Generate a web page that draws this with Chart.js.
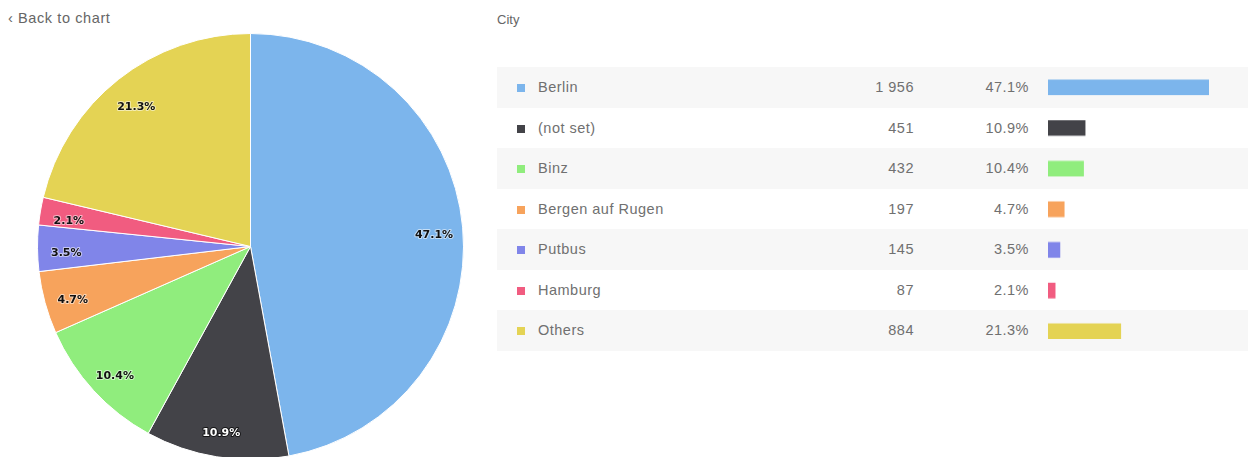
<!DOCTYPE html>
<html>
<head>
<meta charset="utf-8">
<script src="https://cdn.jsdelivr.net/npm/chart.js@4/dist/chart.umd.min.js"></script>
<style>
  html, body { margin: 0; padding: 0; background: #fff; width: 1250px; height: 457px; overflow: hidden;
    font-family: "Liberation Sans", Arial, sans-serif; }
  #back { position: absolute; left: 8px; top: 10px; font-size: 14.5px; letter-spacing: 0.6px; color: #666; }
  #title { position: absolute; left: 497px; top: 12px; font-size: 13px; color: #666; }
  #pieBox { position: absolute; left: 37px; top: 33px; width: 427px; height: 427px; }
  #table { position: absolute; left: 497px; top: 67px; width: 751px; }
  .row { height: 40.5px; position: relative; font-size: 14.5px; letter-spacing: 0.5px; color: #707070; }
  .row.alt { background: #f7f7f7; }
  .sw { position: absolute; left: 20px; top: 17px; width: 8px; height: 8px; }
  .lab { position: absolute; left: 41px; top: 0; line-height: 40.5px; white-space: nowrap; }
  .num { position: absolute; left: 0; width: 417px; text-align: right; line-height: 40.5px; }
  .pct { position: absolute; left: 0; width: 532px; text-align: right; line-height: 40.5px; }
  #barBox { position: absolute; left: 551px; top: 0; width: 161px; height: 283.5px; }
</style>
</head>
<body>
<div id="back">‹ Back to chart</div>
<div id="title">City</div>
<div id="pieBox"><canvas id="pie"></canvas></div>
<div id="table">
  <div id="rows"></div>
  <div id="barBox"><canvas id="bars"></canvas></div>
</div>
<script>
// Sessions by city
const cities = ["Berlin", "(not set)", "Binz", "Bergen auf Rugen", "Putbus", "Hamburg", "Others"];
const sessions = [1956, 451, 432, 197, 145, 87, 884];
const colors = ["#7cb5ec", "#434348", "#90ed7d", "#f7a35c", "#8085e9", "#f15c80", "#e4d354"];

const total = sessions.reduce((a, b) => a + b, 0);
const shareText = v => (v / total * 100).toFixed(1) + "%";
const numText = v => String(v).replace(/\B(?=(\d{3})+(?!\d))/g, " ");

// Table rows: swatch, city, count, share
const rowsEl = document.getElementById("rows");
cities.forEach((c, i) => {
  const row = document.createElement("div");
  row.className = "row" + (i % 2 === 0 ? " alt" : "");
  row.innerHTML =
    '<span class="sw" style="background:' + colors[i] + '"></span>' +
    '<span class="lab">' + c + '</span>' +
    '<span class="num">' + numText(sessions[i]) + '</span>' +
    '<span class="pct">' + shareText(sessions[i]) + '</span>';
  rowsEl.appendChild(row);
});

// Percentage labels placed near the rim of each slice
const sliceLabels = {
  id: "sliceLabels",
  afterDatasetsDraw(chart) {
    const ctx = chart.ctx;
    const meta = chart.getDatasetMeta(0);
    ctx.save();
    ctx.font = "bold 11px 'DejaVu Sans', sans-serif";
    ctx.textAlign = "center";
    ctx.textBaseline = "middle";
    ctx.lineJoin = "round";
    meta.data.forEach((arc, i) => {
      const p = arc.getProps(["x", "y", "startAngle", "endAngle", "outerRadius"], true);
      const mid = (p.startAngle + p.endAngle) / 2;
      const r = p.outerRadius * 0.865;
      const x = p.x + Math.cos(mid) * r;
      const y = p.y + Math.sin(mid) * r + 5;
      const t = shareText(sessions[i]);
      const dark = i === 1;
      ctx.lineWidth = 2;
      ctx.strokeStyle = dark ? "rgba(0,0,0,0.7)" : "rgba(255,255,255,0.55)";
      ctx.strokeText(t, x, y);
      ctx.fillStyle = dark ? "#fff" : "#111";
      ctx.fillText(t, x, y);
    });
    ctx.restore();
  }
};

new Chart(document.getElementById("pie"), {
  type: "pie",
  data: {
    labels: cities,
    datasets: [{ data: sessions, backgroundColor: colors, borderColor: "#fff", borderWidth: 1 }]
  },
  options: {
    responsive: true,
    maintainAspectRatio: false,
    animation: false,
    layout: { padding: 0 },
    plugins: { legend: { display: false }, tooltip: { enabled: false } }
  },
  plugins: [sliceLabels]
});

// Share bars in the table, scaled to the largest city
new Chart(document.getElementById("bars"), {
  type: "bar",
  data: {
    labels: cities,
    datasets: [{ data: sessions, backgroundColor: colors, borderWidth: 0, barThickness: 15 }]
  },
  options: {
    indexAxis: "y",
    responsive: true,
    maintainAspectRatio: false,
    animation: false,
    layout: { padding: 0 },
    plugins: { legend: { display: false }, tooltip: { enabled: false } },
    scales: {
      x: { display: false, min: 0, max: Math.max(...sessions) },
      y: { display: false }
    }
  }
});
</script>
</body>
</html>
